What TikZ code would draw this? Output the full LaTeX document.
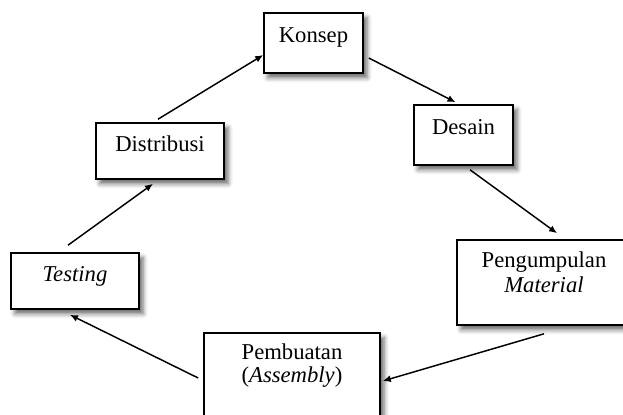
\documentclass[tikz,border=0pt]{standalone}
\usepackage{fontspec}
\setmainfont{Liberation Serif}
\usetikzlibrary{arrows.meta,shadows.blur}
\tikzset{
  box/.style={draw, line width=1.2pt, fill=white, inner sep=0pt,
    blur shadow={shadow xshift=3pt, shadow yshift=-3.5pt, shadow blur radius=3.5pt, shadow opacity=60}},
  txt/.style={anchor=base, inner sep=0pt, font=\fontsize{17}{20}\selectfont},
  conn/.style={line width=1.1pt, -{Latex[length=6pt,width=5.25pt]}}
}
\begin{document}
\begin{tikzpicture}[x=0.75pt, y=-0.75pt]
\useasboundingbox (0,0) rectangle (623,414);
% boxes
\node[box, minimum width=74.25pt, minimum height=45pt] (konsep) at (313.5,43) {};
\node[box, minimum width=74.25pt, minimum height=45pt] (desain) at (463.5,135) {};
\node[box, minimum width=96pt, minimum height=42pt] (distribusi) at (160,151) {};
\node[box, minimum width=96pt, minimum height=42pt] (testing) at (75,281) {};
\node[box, minimum width=130.5pt, minimum height=63.75pt] (peng) at (544,282.5) {};
\node[box, minimum width=132pt, minimum height=64.5pt] (pemb) at (292,376) {};
% texts
\node[txt] at ([yshift=-22.5pt]konsep.north) {Konsep};
\node[txt] at ([yshift=-22.5pt]desain.north) {Desain};
\node[txt] at ([yshift=-21.75pt]distribusi.north) {Distribusi};
\node[txt] at ([yshift=-21.75pt]testing.north) {\textit{Testing}};
\node[txt] at ([yshift=-21pt]peng.north) {Pengumpulan};
\node[txt] at ([yshift=-39.75pt]peng.north) {\textit{Material}};
\node[txt] at ([yshift=-20.25pt]pemb.north) {Pembuatan};
\node[txt] at ([yshift=-37.5pt]pemb.north) {(\textit{Assembly})};
% connectors
\draw[conn] ([xshift=-1.5pt,yshift=2.25pt]distribusi.north) -- ([yshift=-9pt]konsep.west);
\draw[conn] ([xshift=3.75pt,yshift=-11.25pt]konsep.east) -- ([xshift=-6pt,yshift=1.5pt]desain.north);
\draw[conn] ([xshift=4.9pt,yshift=-3pt]desain.south) -- ([xshift=9.75pt,yshift=4.5pt]peng.north);
\draw[conn] ([yshift=-6pt]peng.south) -- ([xshift=1.5pt,yshift=-3.75pt]pemb.east);
\draw[conn] ([xshift=-3.75pt,yshift=-1.5pt]pemb.west) -- ([xshift=-3.75pt,yshift=-3.75pt]testing.south);
\draw[conn] ([xshift=-5.25pt,yshift=5.25pt]testing.north) -- ([xshift=-5.25pt,yshift=-3pt]distribusi.south);
\end{tikzpicture}
\end{document}
